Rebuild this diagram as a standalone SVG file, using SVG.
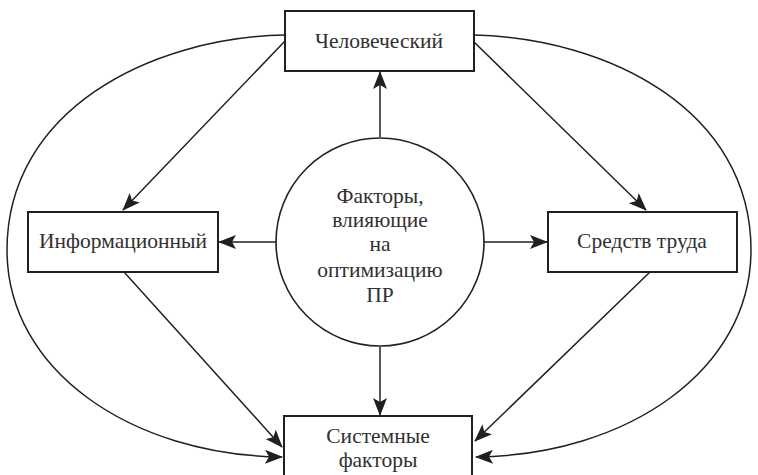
<svg xmlns="http://www.w3.org/2000/svg" width="758" height="475" viewBox="0 0 758 475">
  <style>
    .box { fill: #ffffff; stroke: #231f20; stroke-width: 2; }
    .hub { fill: #ffffff; stroke: #231f20; stroke-width: 1.6; }
    .edge { fill: none; stroke: #231f20; stroke-width: 1.5; marker-end: url(#arrow); }
    .lbl { font-family: "Liberation Serif", "Times New Roman", "DejaVu Serif", serif; font-size: 21.5px; fill: #303030; text-anchor: middle; }
  </style>
  <defs>
    <marker id="arrow" markerUnits="userSpaceOnUse" markerWidth="18" markerHeight="14" viewBox="0 0 18 14" refX="17" refY="7" orient="auto">
      <path d="M0,0 L18,7 L0,14 L4,7 Z" fill="#231f20"/>
    </marker>
  </defs>

  <g id="connectors">
    <!-- outer arcs from the top node to the bottom node -->
    <path class="edge" d="M284,35 C150,38 7,110 7,250 C7,370 130,455 282,457"/>
    <path class="edge" d="M474,35 C608,38 751,110 751,250 C751,370 628,455 476,457"/>
    <!-- top node to side nodes -->
    <path class="edge" d="M285,41 L123,210"/>
    <path class="edge" d="M473,41 L646,210"/>
    <!-- side nodes to bottom node -->
    <path class="edge" d="M124,272 L282,447"/>
    <path class="edge" d="M650,272 L475,441"/>
    <!-- hub to the four nodes -->
    <path class="edge" d="M380,137 L380,72"/>
    <path class="edge" d="M380,347 L380,415"/>
    <path class="edge" d="M276,242 L219,242"/>
    <path class="edge" d="M484,242 L547,242"/>
  </g>

  <g id="node-hub">
    <circle class="hub" cx="380" cy="242" r="104"/>
    <text class="lbl" x="380" y="203">Факторы,</text>
    <text class="lbl" x="380" y="227">влияющие</text>
    <text class="lbl" x="380" y="251">на</text>
    <text class="lbl" x="380" y="277">оптимизацию</text>
    <text class="lbl" x="380" y="302">ПР</text>
  </g>

  <g id="node-human">
    <rect class="box" x="285" y="11" width="189" height="60"/>
    <text class="lbl" x="379" y="48">Человеческий</text>
  </g>

  <g id="node-info">
    <rect class="box" x="28" y="212" width="190" height="60"/>
    <text class="lbl" x="123" y="248">Информационный</text>
  </g>

  <g id="node-tools">
    <rect class="box" x="548" y="212" width="189" height="60"/>
    <text class="lbl" x="642" y="248">Средств труда</text>
  </g>

  <g id="node-system">
    <rect class="box" x="284" y="416" width="188" height="70"/>
    <text class="lbl" x="378" y="443">Системные</text>
    <text class="lbl" x="378" y="467">факторы</text>
  </g>
</svg>
